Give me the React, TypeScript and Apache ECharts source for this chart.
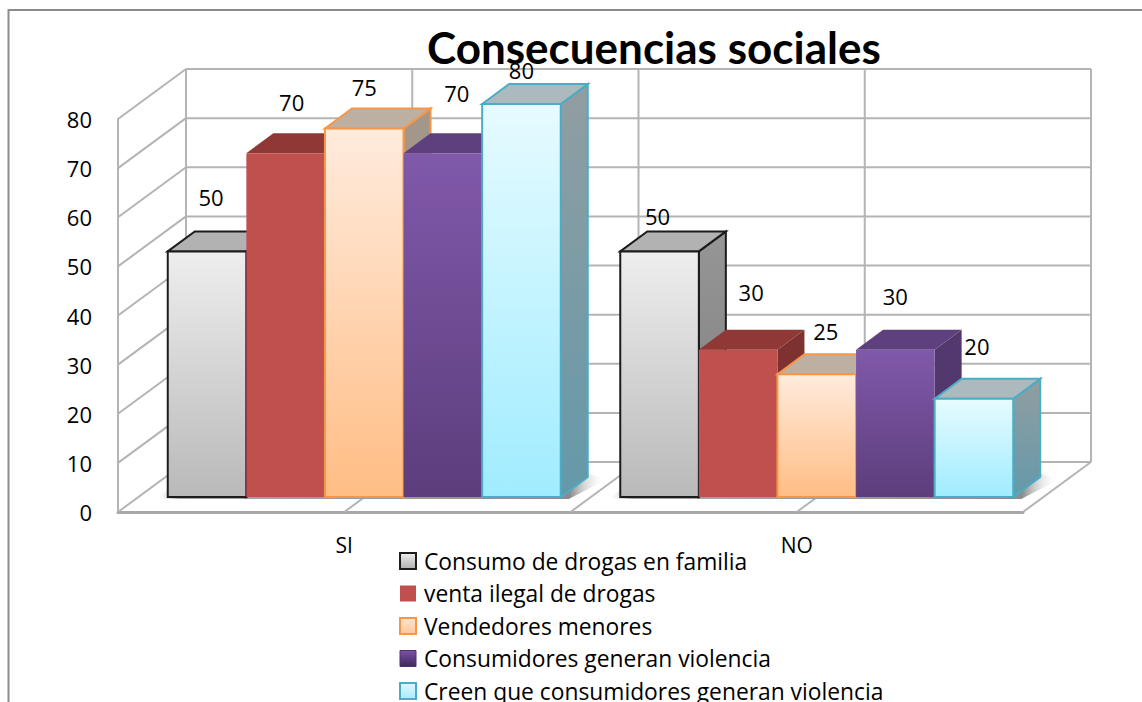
import React, { useEffect, useRef } from "react";
import * as echarts from "echarts";

const categories = ["SI", "NO"];
const yTicks = [0, 10, 20, 30, 40, 50, 60, 70, 80];
const seriesNames = [
  "Consumo de drogas en familia",
  "venta ilegal de drogas",
  "Vendedores menores",
  "Consumidores generan violencia",
  "Creen que consumidores generan violencia",
];
const consumoFamilia = [50, 50];
const ventaIlegal = [70, 30];
const vendedoresMenores = [75, 25];
const consumidoresViolencia = [70, 30];
const creenViolencia = [80, 20];
const seriesValues = [consumoFamilia, ventaIlegal, vendedoresMenores, consumidoresViolencia, creenViolencia];

// label nudges from the front-top centre of each bar [series][category]
const labelNudges = [
  [[4, -54], [-2, -35]],
  [[6, -51], [13, -58]],
  [[0, -42], [9, -43]],
  [[14, -60], [0, -54]],
  [[0, -34], [3, -53]],
];

const grad = (a: string, b: string) =>
  new echarts.graphic.LinearGradient(0, 0, 0, 1, [
    { offset: 0, color: a },
    { offset: 1, color: b },
  ]);

const looks = [
  { front: grad("#eeeeee", "#b9b9b9"), stroke: "#1c1c1c", lw: 2, top: "#b2b2b2", side: grad("#969696", "#7c7c7c"), topStroke: "#1c1c1c" },
  { front: "#c0504d", stroke: "none", lw: 0, top: "#8f3836", side: "#7e3230", topStroke: "none" },
  { front: grad("#ffebdd", "#ffbd84"), stroke: "#f79646", lw: 2, top: "#bdb0a3", side: "#a3968a", topStroke: "#f79646" },
  { front: grad("#8059aa", "#5d3d7c"), stroke: "none", lw: 0, top: "#5f407e", side: "#52386c", topStroke: "none" },
  { front: grad("#e6fbff", "#a0ecff"), stroke: "#4bacc6", lw: 2, top: "#adbabd", side: grad("#919ea2", "#6499a9"), topStroke: "#4bacc6" },
];

const legendLooks = [
  { color: grad("#eeeeee", "#b0b0b0"), borderColor: "#1c1c1c", borderWidth: 2 },
  { color: "#c0504d", borderColor: "#c0504d", borderWidth: 0 },
  { color: grad("#ffe5d2", "#ffc597"), borderColor: "#f79646", borderWidth: 2 },
  { color: grad("#7a52a6", "#41285e"), borderColor: "#4e3372", borderWidth: 1 },
  { color: grad("#e0f8ff", "#a8ecff"), borderColor: "#4bacc6", borderWidth: 2 },
];

const FONT = "'Open Sans', sans-serif";
const TITLE_FONT = "Lato, 'Open Sans', sans-serif";
const WALL = "#b4b4b4";
const DEPTH_X = 68;
const DEPTH_Y = -50;
const BAR_FRACTION = 0.1737;
const BAR_SHIFT_X = 20;
const BAR_SHIFT_Y = -15;
const BAR_DEPTH_X = 27;
const BAR_DEPTH_Y = -20;

const wallLine = (x1: number, y1: number, x2: number, y2: number, width = 2) => ({
  type: "line",
  shape: { x1, y1, x2, y2 },
  style: { stroke: WALL, lineWidth: width },
});

function renderWall(_: any, api: any) {
  const band = api.size([1, 0])[0];
  const [cx, y] = api.coord([0, api.value(0)]);
  const x0 = cx - band / 2;
  const x1 = x0 + band * 2;
  const children: any[] = [
    wallLine(x0, y, x0 + DEPTH_X, y + DEPTH_Y),
    wallLine(x0 + DEPTH_X, y + DEPTH_Y, x1 + DEPTH_X, y + DEPTH_Y),
  ];
  if (api.value(0) === yTicks[0]) {
    const yTop = api.coord([0, yTicks[yTicks.length - 1]])[1];
    [0, 1, 2, 3, 4].forEach((q) => {
      const bx = x0 + DEPTH_X + (q * band) / 2;
      children.push(wallLine(bx, yTop + DEPTH_Y, bx, y + DEPTH_Y));
      if (q > 0) children.push(wallLine(bx - DEPTH_X, y, bx, y + DEPTH_Y));
    });
  }
  return { type: "group", children };
}

function renderShadow(_: any, api: any) {
  const band = api.size([1, 0])[0];
  const [cx, y] = api.coord([api.value(0), 0]);
  const w = band * BAR_FRACTION;
  const left = cx + BAR_SHIFT_X - 2.5 * w;
  const right = cx + BAR_SHIFT_X + 2.5 * w;
  const base = y + BAR_SHIFT_Y;
  return {
    type: "polygon",
    shape: {
      points: [
        [left - 12, base + 2],
        [right + 8, base + 2],
        [right + BAR_DEPTH_X + 18, base - 17],
        [right + BAR_DEPTH_X, base - 24],
        [left + 6, base - 12],
      ],
    },
    style: {
      fill: new echarts.graphic.LinearGradient(0, 0, 1, 0, [
        { offset: 0, color: "rgba(255,255,255,0)" },
        { offset: 0.05, color: "#a8a8a8" },
        { offset: 0.92, color: "#8c8c8c" },
        { offset: 1, color: "rgba(255,255,255,0)" },
      ]),
    },
  };
}

const renderBar = (s: number) => (_: any, api: any) => {
  const idx = api.value(0);
  const value = api.value(1);
  const band = api.size([1, 0])[0];
  const [cx, yVal] = api.coord([idx, value]);
  const y0 = api.coord([idx, 0])[1] + BAR_SHIFT_Y;
  const w = band * BAR_FRACTION;
  const x = cx + BAR_SHIFT_X + (s - 2.5) * w;
  const y = yVal + BAR_SHIFT_Y;
  const look = looks[s];
  const [nx, ny] = labelNudges[s][idx];
  const dx = BAR_DEPTH_X;
  const dy = BAR_DEPTH_Y;
  return {
    type: "group",
    children: [
      {
        type: "polygon",
        shape: { points: [[x + w, y], [x + w + dx, y + dy], [x + w + dx, y0 + dy], [x + w, y0]] },
        style: { fill: look.side, stroke: look.topStroke, lineWidth: look.lw },
      },
      {
        type: "polygon",
        shape: { points: [[x, y], [x + dx, y + dy], [x + w + dx, y + dy], [x + w, y]] },
        style: { fill: look.top, stroke: look.topStroke, lineWidth: look.lw },
      },
      {
        type: "rect",
        shape: { x, y, width: w, height: y0 - y },
        style: { fill: look.front, stroke: look.stroke, lineWidth: look.lw },
      },
      {
        type: "text",
        z2: 100,
        style: {
          text: String(value),
          x: x + w / 2 + nx,
          y: y + ny,
          fill: "#000",
          font: `22px ${FONT}`,
          textAlign: "center",
          textVerticalAlign: "middle",
        },
      },
    ],
  };
};

export default function App() {
  const ref = useRef<HTMLDivElement>(null);
  useEffect(() => {
    const chart = echarts.init(ref.current!, undefined, { renderer: "svg" });
    chart.setOption({
      animation: false,
      backgroundColor: "#fff",
      title: {
        text: "Consecuencias sociales",
        left: 427,
        top: 25,
        padding: 0,
        z: 1,
        textStyle: { fontFamily: TITLE_FONT, fontSize: 44, fontWeight: "bold", color: "#000" },
      },
      legend: {
        orient: "vertical",
        left: 399,
        top: 549,
        padding: 0,
        icon: "rect",
        itemWidth: 16,
        itemHeight: 16,
        itemGap: 8.5,
        textStyle: { fontFamily: FONT, fontSize: 22.8, color: "#000", lineHeight: 24, padding: [0, 0, 0, 3] },
        data: seriesNames.map((name, i) => ({ name, itemStyle: legendLooks[i] })),
      },
      grid: { left: 118, top: 119, width: 905, height: 393 },
      xAxis: {
        type: "category",
        data: categories,
        axisTick: { show: false },
        axisLine: { show: true, lineStyle: { color: "#a8a8a8", width: 3 } },
        axisLabel: { margin: 22, fontFamily: FONT, fontSize: 21, color: "#000" },
      },
      yAxis: {
        type: "value",
        min: 0,
        max: 80,
        interval: 10,
        splitLine: { show: false },
        axisTick: { show: false },
        axisLine: { show: true, lineStyle: { color: "#b4b4b4", width: 2 } },
        axisLabel: { margin: 26, fontFamily: FONT, fontSize: 22, color: "#000", padding: [4, 0, 0, 0] },
      },
      graphic: [
        { type: "line", z: 0, shape: { x1: 8, y1: 10, x2: 1142, y2: 10 }, style: { stroke: "#8c8c8c", lineWidth: 2 } },
        { type: "line", z: 0, shape: { x1: 8.5, y1: 9, x2: 8.5, y2: 702 }, style: { stroke: "#8c8c8c", lineWidth: 2 } },
      ],
      series: [
        {
          type: "custom",
          name: "walls",
          z: 2,
          silent: true,
          renderItem: renderWall,
          data: yTicks.map((t) => [t]),
          encode: { y: 0 },
        },
        {
          type: "custom",
          name: "floorShadow",
          z: 2,
          silent: true,
          renderItem: renderShadow,
          data: categories.map((_, i) => [i, 0]),
          encode: { x: 0, y: 1 },
        },
        ...seriesNames.map((name, s) => ({
          type: "custom",
          name,
          z: 3,
          silent: true,
          itemStyle: { color: legendLooks[s].color },
          renderItem: renderBar(s),
          data: seriesValues[s].map((v, i) => [i, v]),
          encode: { x: 0, y: 1 },
        })),
      ],
    });
    return () => chart.dispose();
  }, []);
  return (
    <div style={{ position: "fixed", left: 0, top: 0, width: 1142, height: 702, overflow: "hidden" }}>
      <div ref={ref} style={{ width: 1142, height: 760 }} />
    </div>
  );
}
